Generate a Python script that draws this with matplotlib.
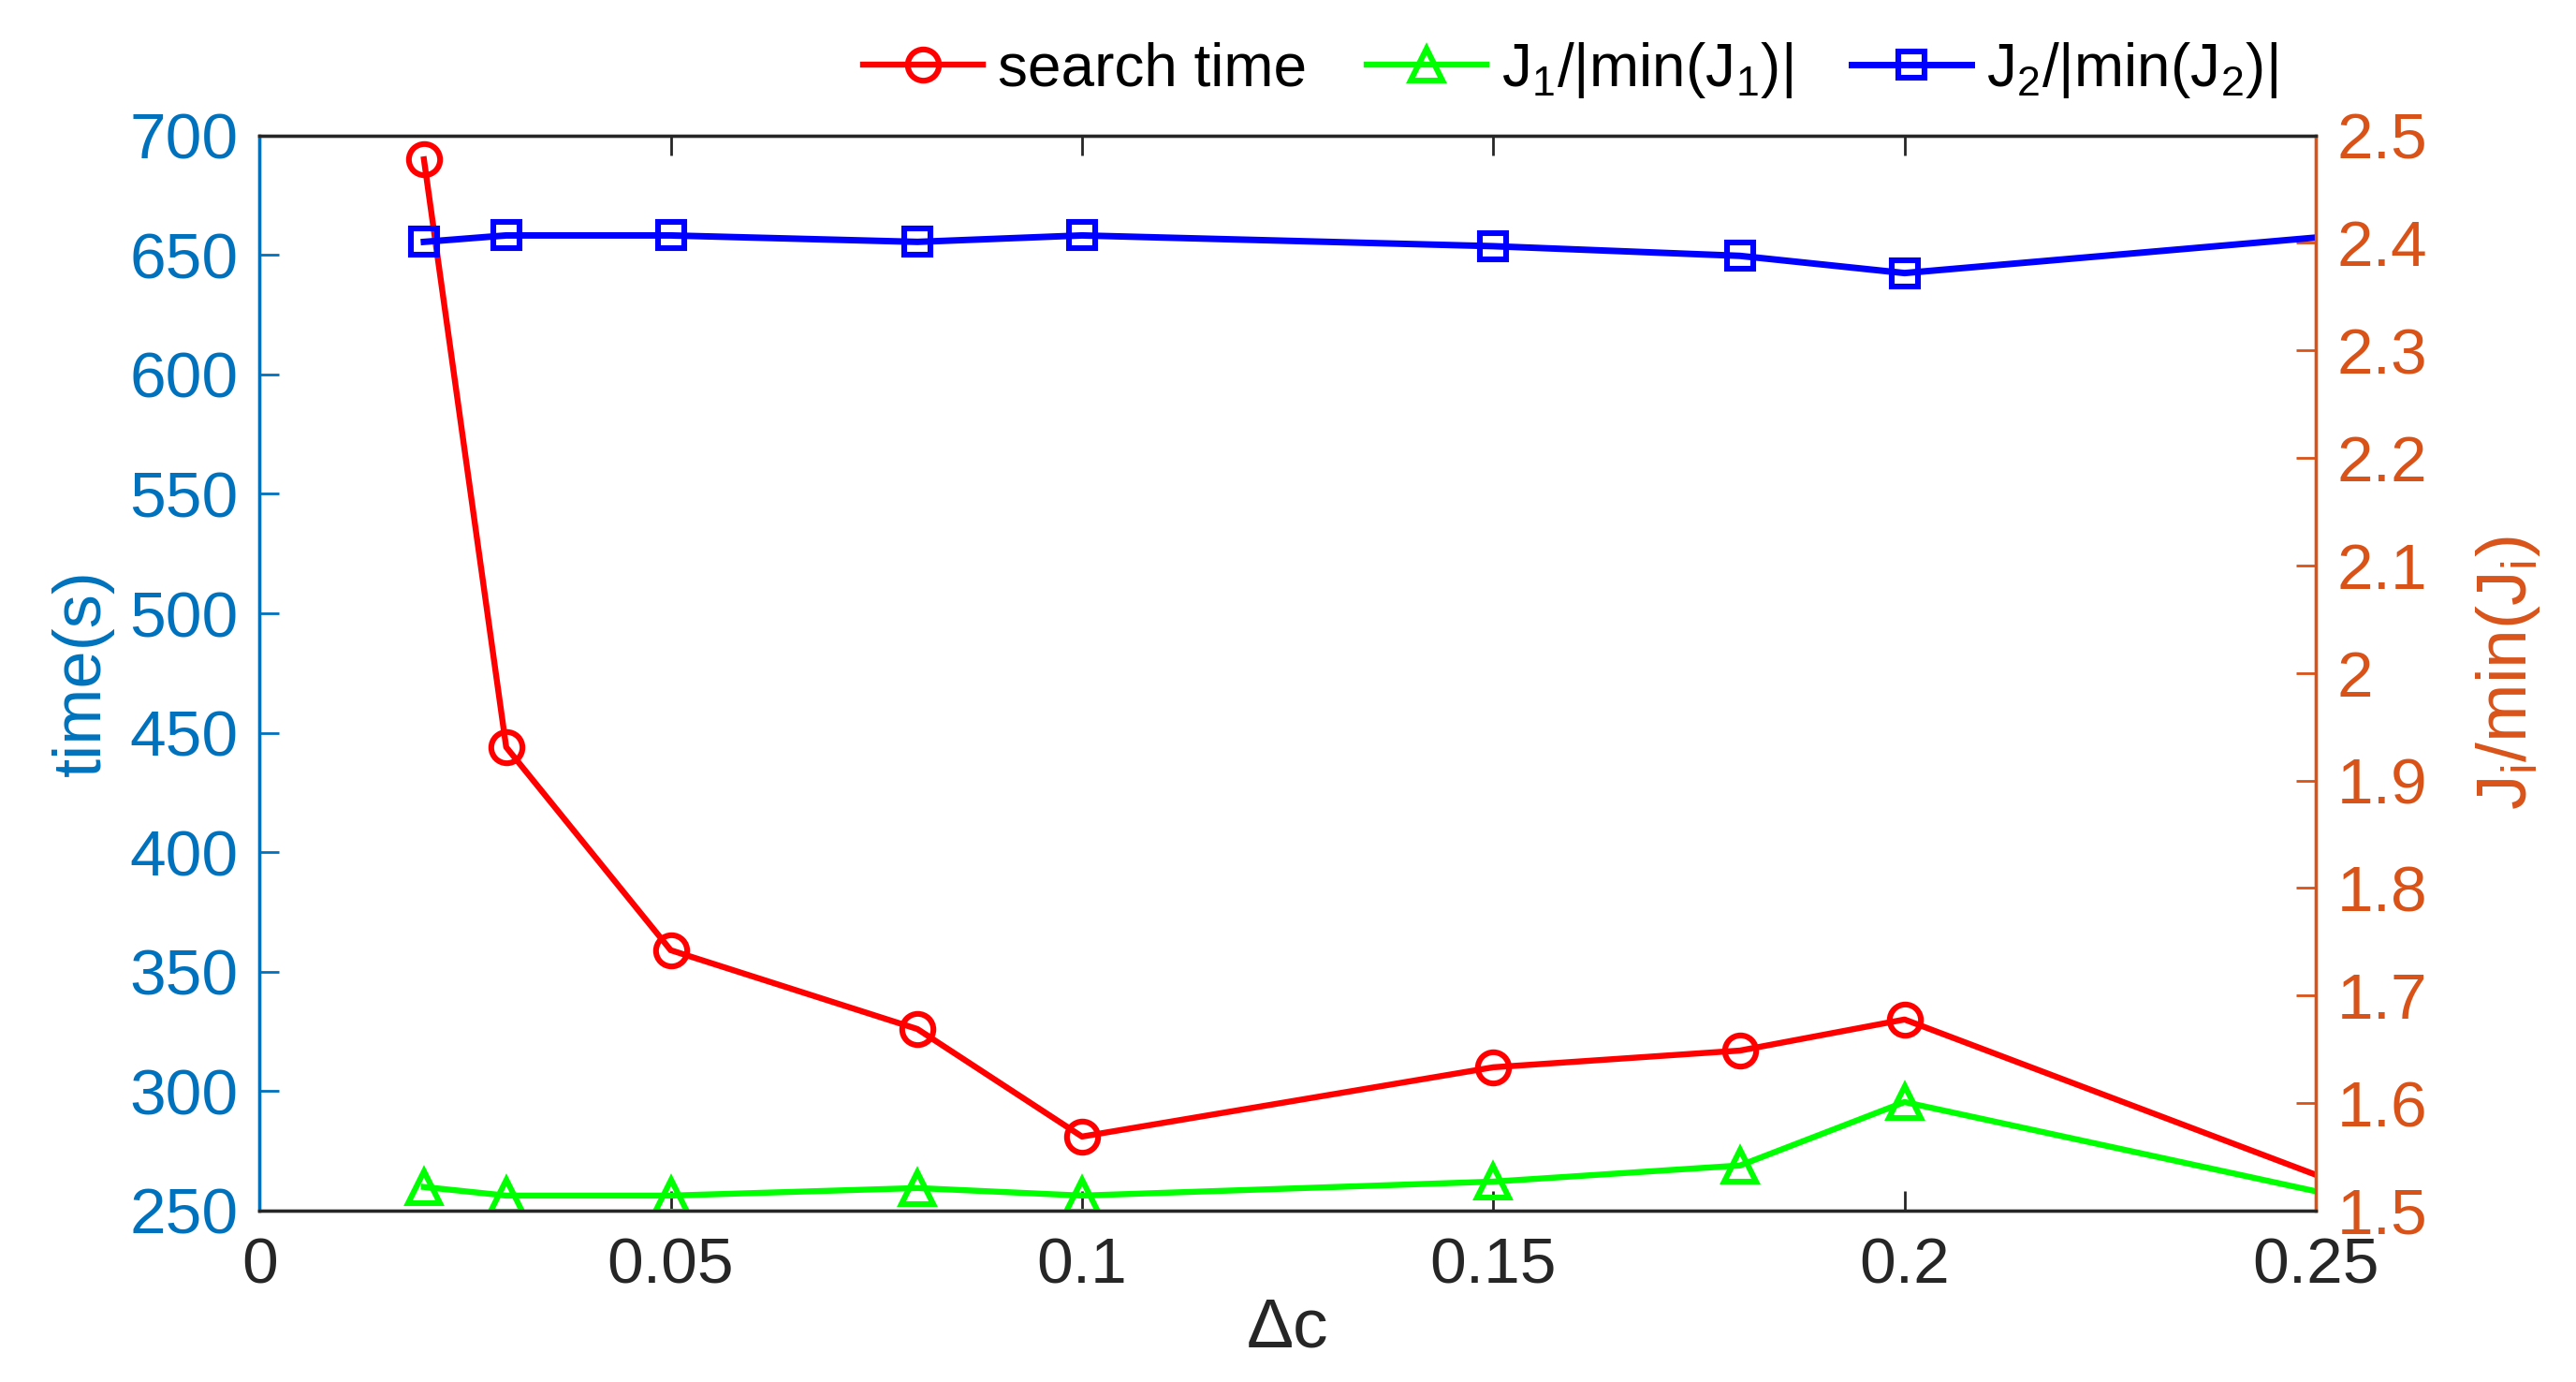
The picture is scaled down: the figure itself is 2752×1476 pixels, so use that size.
import matplotlib.pyplot as plt
from matplotlib.ticker import FuncFormatter

plt.rcParams['font.family'] = ['Liberation Sans', 'DejaVu Sans']
plt.rcParams['mathtext.default'] = 'regular'

# data
dc = [0.02, 0.03, 0.05, 0.08, 0.1, 0.15, 0.18, 0.2, 0.25]
search_time = [690, 444, 359, 326, 281, 310, 317, 330, 265]
j1_ratio = [1.522, 1.514, 1.514, 1.521, 1.514, 1.527, 1.542, 1.601, 1.518]
j2_ratio = [2.401, 2.407, 2.407, 2.401, 2.407, 2.397, 2.388, 2.372, 2.405]

x_ticks = [0, 0.05, 0.1, 0.15, 0.2, 0.25]
left_ticks = [250, 300, 350, 400, 450, 500, 550, 600, 650, 700]
right_ticks = [1.5, 1.6, 1.7, 1.8, 1.9, 2.0, 2.1, 2.2, 2.3, 2.4, 2.5]

c_left = '#0072BD'
c_right = '#D95319'
c_axis = '#262626'
fs = 25

fig = plt.figure(figsize=(13.76, 7.38), dpi=200)
ax = fig.add_axes([0.1007, 0.124, 0.7983, 0.778])
ax2 = ax.twinx()

# the last sample sits on the axes edge, its marker is clipped away
mk = list(range(len(dc) - 1))

l1, = ax.plot(dc, search_time, color='red', lw=2.3, marker='o', ms=12,
              mfc='none', mew=2.2, markevery=mk, label='search time')
l2, = ax2.plot(dc, j1_ratio, color='#00FF00', lw=2.3, marker='^', ms=12,
               mfc='none', mew=2.2, markevery=mk, label='J$_1$/|min(J$_1$)|')
l3, = ax2.plot(dc, j2_ratio, color='blue', lw=2.5, marker='s', ms=10,
               mfc='none', mew=2.2, markevery=mk, label='J$_2$/|min(J$_2$)|')

ax.set_xlim(0, 0.25)
ax.set_ylim(250, 700)
ax2.set_ylim(1.5, 2.5)
ax.set_xticks(x_ticks)
ax.set_yticks(left_ticks)
ax2.set_yticks(right_ticks)
ax.xaxis.set_major_formatter(FuncFormatter(lambda v, p: '%g' % v))
ax2.yaxis.set_major_formatter(FuncFormatter(lambda v, p: '%g' % round(v, 2)))

ax.tick_params(axis='x', direction='in', length=7.5, width=1, colors=c_axis,
               labelsize=fs, top=True, pad=10)
ax.tick_params(axis='y', direction='in', length=7.5, width=1, colors=c_left,
               labelsize=fs, pad=8)
ax2.tick_params(axis='y', direction='in', length=7.5, width=1, colors=c_right,
                labelsize=fs, pad=8)

for a in (ax, ax2):
    a.spines['top'].set_color(c_axis)
    a.spines['bottom'].set_color(c_axis)
    a.spines['left'].set_color(c_left)
    a.spines['right'].set_color(c_right)
    for s in a.spines.values():
        s.set_linewidth(1.2)

ax.set_xlabel('Δc', fontsize=27, color=c_axis, labelpad=0)
ax.set_ylabel('time(s)', fontsize=26, color=c_left, labelpad=6)
ax2.set_ylabel('J$_i$/min(J$_i$)', fontsize=27, color=c_right, labelpad=18)

fig.legend(handles=[l1, l2, l3], loc='upper right', bbox_to_anchor=(0.905, 1.01),
           ncol=3, frameon=False, fontsize=23, handlelength=2.0,
           handletextpad=0.25, columnspacing=1.0)

fig.savefig('out.png', dpi=200)
